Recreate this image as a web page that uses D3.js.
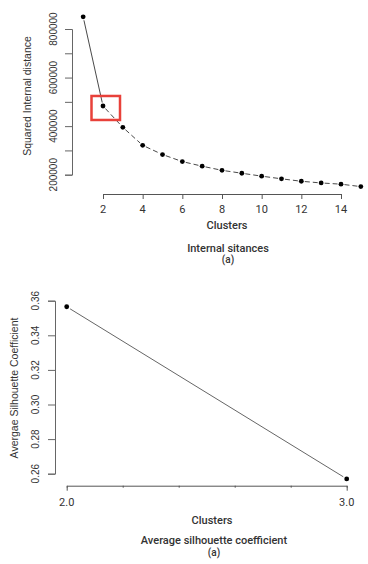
<!DOCTYPE html>
<html>
<head>
<meta charset="utf-8">
<script src="https://cdn.jsdelivr.net/npm/d3@7"></script>
<style>
  body { margin: 0; background: #fff; }
  svg text { fill: #222; }
</style>
</head>
<body>
<svg id="chart"></svg>
<script>
var width = 368,
    height = 564;

// top chart: internal distances
var clusters = [1, 2, 3, 4, 5, 6, 7, 8, 9, 10, 11, 12, 13, 14, 15],
    distances = [850000, 483000, 395000, 321000, 283000, 254000, 235000, 218000, 206000, 194000, 183000, 173000, 166000, 161000, 151000],
    distTicks = [200000, 300000, 400000, 500000, 600000, 700000, 800000],
    distLabels = [200000, 400000, 600000, 800000],
    clusterTicks = [2, 4, 6, 8, 10, 12, 14];

// bottom chart: silhouette
var silClusters = [2, 3],
    silValues = [0.3565, 0.257],
    silTicks = [0.26, 0.28, 0.30, 0.32, 0.34, 0.36],
    silXTicks = [2, 2.2, 2.4, 2.6, 2.8, 3],
    silXLabels = [2, 3];

var svg = d3.select('svg#chart')
    .attr('width', width)
    .attr('height', height);

var axisFont = '"Liberation Sans", Arial, sans-serif',
    titleFont = 'Roboto, "Noto Sans", sans-serif';

// "type b" segments: shorten each segment near the points
function segments(xs, ys, gap) {
    var out = [];
    for (var i = 0; i < xs.length - 1; i++) {
        var dx = xs[i + 1] - xs[i], dy = ys[i + 1] - ys[i];
        var len = Math.sqrt(dx * dx + dy * dy);
        var ux = dx / len, uy = dy / len;
        out.push({
            i: i,
            x1: xs[i] + ux * gap, y1: ys[i] + uy * gap,
            x2: xs[i + 1] - ux * gap, y2: ys[i + 1] - uy * gap
        });
    }
    return out;
}

function title(g, txt, x, y, size) {
    return g.append('text')
        .attr('x', x).attr('y', y)
        .attr('text-anchor', 'middle')
        .attr('font-family', titleFont)
        .attr('font-weight', 500)
        .attr('font-size', size)
        .style('fill', '#333')
        .text(txt);
}

// ---------- top chart ----------
var x1 = d3.scaleLinear().domain([2, 14]).range([103, 341]);
var y1 = d3.scaleLinear().domain([200000, 800000]).range([174.7, 29]);

var topChart = svg.append('g');

var yAxis1 = topChart.append('g')
    .attr('transform', 'translate(72,0)')
    .call(d3.axisLeft(y1).tickValues(distTicks).tickSize(7).tickFormat(''));
yAxis1.selectAll('path, line').attr('stroke', '#666');

topChart.selectAll('.ylab')
    .data(distLabels)
    .enter().append('text')
    .attr('transform', function(d) { return 'translate(57,' + y1(d) + ') rotate(-90)'; })
    .attr('text-anchor', 'middle')
    .attr('font-family', axisFont)
    .attr('font-size', '10px')
    .style('fill', '#333')
    .text(function(d) { return d; });

var xAxis1 = topChart.append('g')
    .attr('transform', 'translate(0,194)')
    .call(d3.axisBottom(x1).tickValues(clusterTicks).tickSize(5).tickFormat(''));
xAxis1.selectAll('path, line').attr('stroke', '#555');

topChart.selectAll('.xlab')
    .data(clusterTicks)
    .enter().append('text')
    .attr('x', function(d) { return x1(d); })
    .attr('y', 213)
    .attr('text-anchor', 'middle')
    .attr('font-family', titleFont)
    .attr('font-size', '11px')
    .style('fill', '#333')
    .text(function(d) { return d; });

var px1 = clusters.map(function(d) { return x1(d); }),
    py1 = distances.map(function(d) { return y1(d); });

topChart.selectAll('.seg')
    .data(segments(px1, py1, 3.5))
    .enter().append('line')
    .attr('x1', function(d) { return d.x1; })
    .attr('y1', function(d) { return d.y1; })
    .attr('x2', function(d) { return d.x2; })
    .attr('y2', function(d) { return d.y2; })
    .attr('stroke', '#333')
    .attr('stroke-width', 0.9)
    .attr('stroke-dasharray', function(d) { return d.i === 0 ? null : '5,3'; });

topChart.selectAll('.pt')
    .data(clusters)
    .enter().append('circle')
    .attr('cx', function(d, i) { return px1[i]; })
    .attr('cy', function(d, i) { return py1[i]; })
    .attr('r', 2.4)
    .attr('fill', '#000');

// highlight box around the elbow
topChart.append('rect')
    .attr('x', px1[1] - 11.5)
    .attr('y', py1[1] - 10)
    .attr('width', 28.5)
    .attr('height', 24)
    .attr('fill', 'none')
    .attr('stroke', '#e8413a')
    .attr('stroke-width', 2.5);

topChart.append('text')
    .attr('transform', 'translate(31,96) rotate(-90)')
    .attr('text-anchor', 'middle')
    .attr('font-family', axisFont)
    .attr('font-size', '10.5px')
    .style('fill', '#333')
    .text('Squared Internal distance');

title(topChart, 'Clusters', 227, 229, '11px');
title(topChart, 'Internal sitances', 228, 252, '11px');
title(topChart, '(a)', 228, 263, '10px');

// ---------- bottom chart ----------
var x2 = d3.scaleLinear().domain([2, 3]).range([66.7, 346.7]);
var y2 = d3.scaleLinear().domain([0.26, 0.36]).range([473.7, 300.7]);

var bottomChart = svg.append('g');

var yAxis2 = bottomChart.append('g')
    .attr('transform', 'translate(55,0)')
    .call(d3.axisLeft(y2).tickValues(silTicks).tickSize(7).tickFormat(''));
yAxis2.selectAll('path, line').attr('stroke', '#666');

bottomChart.selectAll('.ylab')
    .data(silTicks)
    .enter().append('text')
    .attr('transform', function(d) { return 'translate(39,' + y2(d) + ') rotate(-90)'; })
    .attr('text-anchor', 'middle')
    .attr('font-family', axisFont)
    .attr('font-size', '10px')
    .style('fill', '#333')
    .text(function(d) { return d.toFixed(2); });

var xAxis2 = bottomChart.append('g')
    .attr('transform', 'translate(0,485.7)')
    .call(d3.axisBottom(x2).tickValues(silXTicks).tickSize(2).tickFormat(''));
xAxis2.selectAll('path, line').attr('stroke', '#555');
xAxis2.selectAll('.tick line')
    .filter(function(d) { return silXLabels.indexOf(d) >= 0; })
    .attr('y2', 5);

bottomChart.selectAll('.xlab')
    .data(silXLabels)
    .enter().append('text')
    .attr('x', function(d) { return x2(d); })
    .attr('y', 506)
    .attr('text-anchor', 'middle')
    .attr('font-family', titleFont)
    .attr('font-size', '11px')
    .style('fill', '#333')
    .text(function(d) { return d.toFixed(1); });

var px2 = silClusters.map(function(d) { return x2(d); }),
    py2 = silValues.map(function(d) { return y2(d); });

bottomChart.selectAll('.seg')
    .data(segments(px2, py2, 4))
    .enter().append('line')
    .attr('x1', function(d) { return d.x1; })
    .attr('y1', function(d) { return d.y1; })
    .attr('x2', function(d) { return d.x2; })
    .attr('y2', function(d) { return d.y2; })
    .attr('stroke', '#666')
    .attr('stroke-width', 1);

bottomChart.selectAll('.pt')
    .data(silClusters)
    .enter().append('circle')
    .attr('cx', function(d, i) { return px2[i]; })
    .attr('cy', function(d, i) { return py2[i]; })
    .attr('r', 2.4)
    .attr('fill', '#000');

bottomChart.append('text')
    .attr('transform', 'translate(18,388) rotate(-90)')
    .attr('text-anchor', 'middle')
    .attr('font-family', axisFont)
    .attr('font-size', '10.5px')
    .style('fill', '#333')
    .text('Avergae Silhouette Coefficient');

title(bottomChart, 'Clusters', 212, 524, '11px');
title(bottomChart, 'Average silhouette coefficient', 214, 544, '11px');
title(bottomChart, '(a)', 214, 555.5, '10px');
</script>
</body>
</html>
